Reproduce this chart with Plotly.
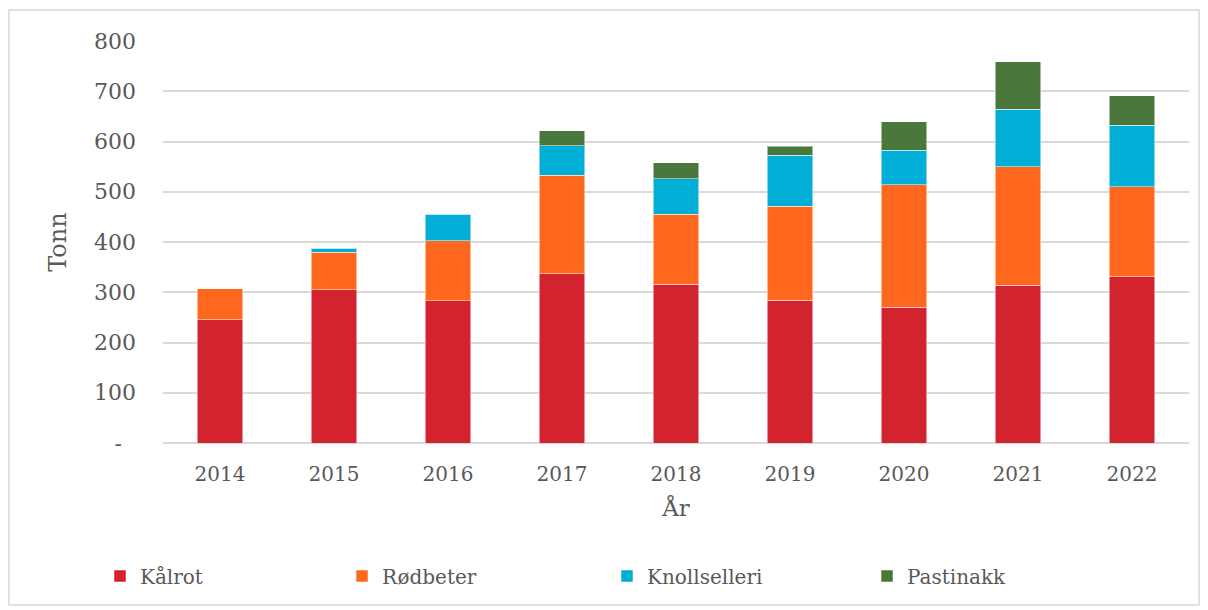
import plotly.graph_objects as go

years = ["2014", "2015", "2016", "2017", "2018", "2019", "2020", "2021", "2022"]
kalrot = [245, 305, 283, 337, 316, 284, 270, 314, 331]
rodbeter = [62, 75, 119, 196, 139, 187, 244, 236, 179]
knollselleri = [0, 8, 53, 59, 71, 102, 69, 114, 122]
pastinakk = [0, 0, 0, 29, 32, 18, 56, 95, 59]
y_ticks = [0, 100, 200, 300, 400, 500, 600, 700, 800]
y_ticklabels = ["-\u00a0\u00a0", "100", "200", "300", "400", "500", "600", "700", "800"]

series = [
    ("Kålrot", kalrot, "#D2232E"),
    ("Rødbeter", rodbeter, "#FF671F"),
    ("Knollselleri", knollselleri, "#00AED6"),
    ("Pastinakk", pastinakk, "#4A773C"),
]
legend_marker_px = [120, 362, 627, 887]

FONT = "DejaVu Serif"
GREY = "#595959"

# page body has an 8px margin; figure sized to fit the window
OFF = 8
W, H = 1200, 602
L, R, T, B = 155, 19, 33, 167
pw, ph = W - L - R, H - T - B

def px(xs):
    return (xs - OFF - L) / pw

def py(ys):
    return (H - B - (ys - OFF)) / ph

fig = go.Figure()
legend_layouts = {}
for i, (name, vals, col) in enumerate(series):
    lname = "legend" if i == 0 else f"legend{i+1}"
    fig.add_trace(go.Bar(
        x=years, y=vals, name=name,
        marker=dict(color=col, line=dict(color="rgba(255,255,255,0.5)", width=1)),
        width=0.4, legend=lname, showlegend=True,
    ))
    legend_layouts[lname] = dict(
        x=px(legend_marker_px[i] - 20), y=py(576), xanchor="left", yanchor="middle",
        font=dict(size=20, color=GREY, family=FONT),
        bgcolor="rgba(0,0,0,0)",
    )

fig.update_layout(
    width=W, height=H,
    barmode="stack",
    showlegend=True,
    plot_bgcolor="white", paper_bgcolor="white",
    margin=dict(l=L, r=R, t=T, b=B, autoexpand=False),
    font=dict(family=FONT, color=GREY, size=20),
    xaxis=dict(
        title=dict(text="År", font=dict(size=23, color=GREY), standoff=14),
        tickfont=dict(size=20, color=GREY),
        showgrid=False, showline=False, ticks="",
        ticklabelstandoff=17,
    ),
    yaxis=dict(
        title=dict(text="Tonn", font=dict(size=24, color=GREY), standoff=20),
        range=[0, 800],
        tickvals=y_ticks, ticktext=y_ticklabels,
        tickfont=dict(size=22, color=GREY),
        showgrid=True, gridcolor="#D9D9D9", gridwidth=1.5,
        zeroline=True, zerolinecolor="#D9D9D9", zerolinewidth=1.5,
        ticks="", ticklabelstandoff=26,
    ),
    shapes=[dict(
        type="rect", xref="paper", yref="paper",
        x0=px(9), x1=px(1199), y0=py(605), y1=py(10),
        line=dict(color="#D9D9D9", width=1.5), fillcolor="rgba(0,0,0,0)",
    )],
    **legend_layouts,
)

fig.write_html("out.html")
